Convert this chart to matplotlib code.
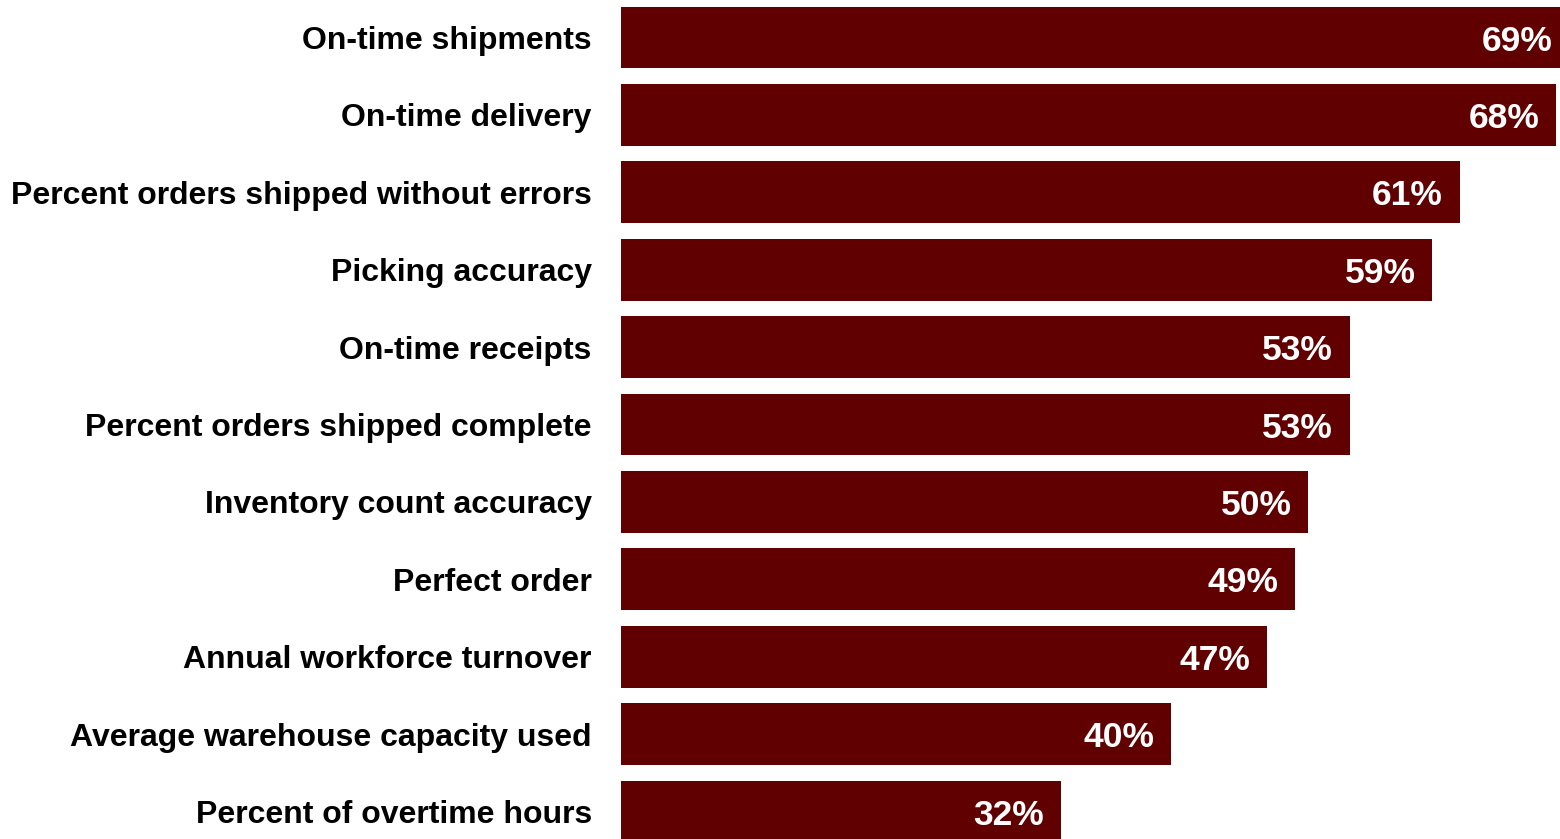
import matplotlib.pyplot as plt

# Warehouse metrics and the share reporting each
metrics = [
    "On-time shipments",
    "On-time delivery",
    "Percent orders shipped without errors",
    "Picking accuracy",
    "On-time receipts",
    "Percent orders shipped complete",
    "Inventory count accuracy",
    "Perfect order",
    "Annual workforce turnover",
    "Average warehouse capacity used",
    "Percent of overtime hours",
]
shares = [69, 68, 61, 59, 53, 53, 50, 49, 47, 40, 32]

bar_color = "#600000"

plt.rcParams["font.family"] = ["Liberation Sans", "DejaVu Sans"]
plt.rcParams["font.weight"] = "bold"

fig = plt.figure(figsize=(15.6, 8.39), dpi=100)
ax = fig.add_axes([621 / 1560, 0, 1 - 621 / 1560, 1])

pos = list(range(len(metrics)))
bars = ax.barh(pos, shares, height=0.8, color=bar_color)

for b, v in zip(bars, shares):
    ax.annotate(f"{v}%", xy=(b.get_width(), b.get_y() + b.get_height() / 2),
                xytext=(-12, 0), textcoords="offset points",
                ha="right", va="center_baseline", color="white",
                fontsize=25.5, fontweight="bold", annotation_clip=False)

ax.set_xlim(0, 68.3)
ax.set_ylim(10.355, -0.4845)
ax.set_yticks(pos)
ax.set_yticklabels(metrics, fontsize=23, fontweight="bold")
ax.tick_params(axis="y", length=0, pad=21)
ax.set_xticks([])
for s in ax.spines.values():
    s.set_visible(False)

fig.savefig("out.png", dpi=100)
